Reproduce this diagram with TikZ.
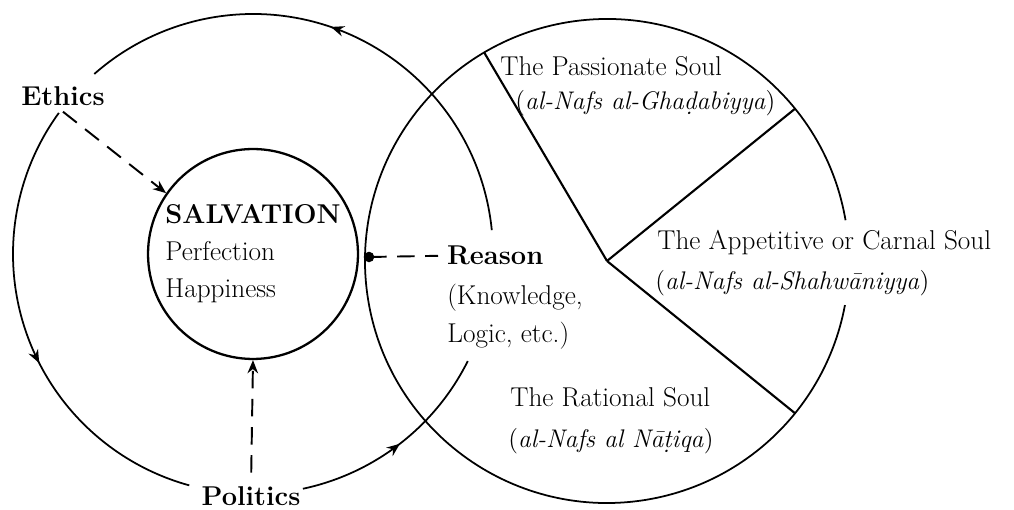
\documentclass[tikz,border=0pt]{standalone}
\usepackage{fontspec}
\usepackage{tikz}
\usetikzlibrary{arrows.meta,calc,decorations.markings,positioning}

\begin{document}
\begin{tikzpicture}[x=0.02cm,y=0.02cm,
  every node/.style={font=\fontsize{15.5}{21}\selectfont},
  lbl/.style={anchor=base west,inner sep=0pt},
  translit/.style={lbl,font=\fontsize{14.5}{20}\selectfont},
  ring/.style={line width=1pt},
  pie/.style={line width=1.2pt},
  salvbox/.style={circle,draw,line width=1.3pt,minimum size=4.2cm,inner sep=0pt,align=left},
  dashline/.style={line width=1.1pt,dash pattern=on 10pt off 6pt},
  tip/.style={-{Stealth[length=7.5pt,width=6pt]}},
  midarrow/.style={postaction={decorate},decoration={markings,
    mark=at position #1 with {\arrow{Stealth[length=7.5pt,width=6pt]}}}}]
\useasboundingbox (0,0) rectangle (1014,510);
\coordinate (ctr) at (253,256);
\coordinate (soul) at (607,249);

% the cycle ethics -> politics -> reason
\draw[ring,midarrow=0.52] ($(ctr)+(5.7:240)$) arc[start angle=5.7,end angle=131.4,radius=240];
\draw[ring,midarrow=0.57] ($(ctr)+(144:240)$) arc[start angle=144,end angle=254.6,radius=240];
\draw[ring,midarrow=0.5] ($(ctr)+(282:240)$) arc[start angle=282,end angle=333.5,radius=240];

% the three souls
\draw[ring] ($(soul)+(9.7:242)$) arc[start angle=9.7,end angle=349.5,radius=242];
\foreach \a in {120.5,39,-39}
  \draw[pie] (soul) -- ++(\a:242);

\node[salvbox] (salv) at (ctr) {\textbf{SALVATION}\\Perfection\\Happiness};
\node[font=\fontsize{15.5}{21}\selectfont\bfseries] (ethics) at (63,414) {Ethics};
\node[font=\fontsize{15.5}{21}\selectfont\bfseries,anchor=base,inner sep=0pt] (politics) at (251,4) {Politics};
\node[lbl,inner sep=5pt,font=\fontsize{15.5}{21}\selectfont\bfseries] (reason) at (438,245) {Reason};
\node[lbl] (knowledge) at (447,205) {(Knowledge,};
\node[lbl] (logic) at (447,167) {Logic, etc.)};

\node[lbl] (passionate) at (500,434) {The Passionate Soul};
\node[translit] (passname) at (515,400) {(\textit{al-Nafs al-Gha\d{d}abiyya})};
\node[lbl] (appetitive) at (657,260) {The Appetitive or Carnal Soul};
\node[translit] (appname) at (655,220) {(\textit{al-Nafs al-Shahw\=aniyya})};
\node[lbl] (rational) at (510,103) {The Rational Soul};
\node[translit] (ratname) at (508,62) {(\textit{al-Nafs al N\=a\d{t}iqa})};

\draw[dashline,tip] (ethics.south) -- (salv.145);
\draw[dashline,tip,shorten <=8pt] (politics.north) -- (salv.south);
\coordinate (rdot) at (369,253);
\fill (rdot) circle (3pt);
\draw[dashline] (rdot) -- (reason.west);
\end{tikzpicture}
\end{document}
